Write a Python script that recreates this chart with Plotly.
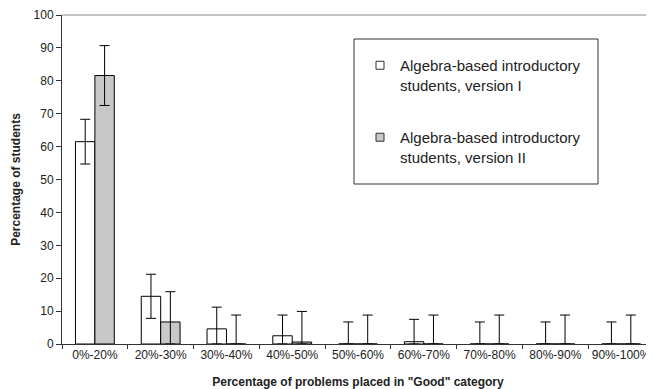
import plotly.graph_objects as go

categories = ["0%-20%", "20%-30%", "30%-40%", "40%-50%", "50%-60%",
              "60%-70%", "70%-80%", "80%-90%", "90%-100%"]
v1_values = [61.5, 14.5, 4.6, 2.5, 0, 0.7, 0, 0, 0]
v1_err = [6.8, 6.7, 6.6, 6.3, 6.7, 6.8, 6.7, 6.7, 6.7]
v2_values = [81.6, 6.7, 0, 0.6, 0, 0, 0, 0, 0]
v2_err = [9.1, 9.2, 8.8, 9.3, 8.8, 8.8, 8.8, 8.8, 8.8]
y_ticks = [0, 10, 20, 30, 40, 50, 60, 70, 80, 90, 100]

name1 = "Algebra-based introductory<br>students, version I"
name2 = "Algebra-based introductory<br>students, version II"

FONT = "Liberation Sans, Arial, sans-serif"

def minus(vals, errs):
    return [min(v, e) for v, e in zip(vals, errs)]

fig = go.Figure()
fig.add_trace(go.Bar(
    x=categories, y=v1_values, name=name1, showlegend=False,
    marker=dict(color="white", line=dict(color="black", width=1)),
    error_y=dict(type="data", symmetric=False, array=v1_err,
                 arrayminus=minus(v1_values, v1_err),
                 color="black", thickness=1, width=5),
))
fig.add_trace(go.Bar(
    x=categories, y=v2_values, name=name2, showlegend=False,
    marker=dict(color="#c8c8c8", line=dict(color="black", width=1)),
    error_y=dict(type="data", symmetric=False, array=v2_err,
                 arrayminus=minus(v2_values, v2_err),
                 color="black", thickness=1, width=5),
))
# legend keys (small squares)
fig.add_trace(go.Scatter(
    x=[None], y=[None], mode="markers", name=name1, legendgroup="a",
    marker=dict(symbol="square", size=8, color="white",
                line=dict(color="#333", width=1)),
))
fig.add_trace(go.Scatter(
    x=[None], y=[None], mode="markers", name=name2, legendgroup="b",
    marker=dict(symbol="square", size=8, color="#c8c8c8",
                line=dict(color="#333", width=1)),
))

# page body has an 8px margin; compensate so the plot sits where the reference has it
fig.update_layout(
    width=646, height=381,
    margin=dict(l=54, r=0, t=7, b=45, autoexpand=False),
    paper_bgcolor="white", plot_bgcolor="white",
    font=dict(family=FONT, size=12, color="#222"),
    barmode="group", bargap=0.41, bargroupgap=0,
    legend=dict(x=(360 - 62) / 592, y=(344 - 49) / 329,
                xanchor="left", yanchor="top",
                bgcolor="rgba(0,0,0,0)", borderwidth=0,
                font=dict(family=FONT, size=15, color="#222"),
                valign="top", tracegroupgap=30, itemwidth=30),
    shapes=[dict(type="rect", xref="paper", yref="paper",
                 x0=(354 - 62) / 592, x1=(598 - 62) / 592,
                 y0=(344 - 184) / 329, y1=(344 - 39) / 329,
                 line=dict(color="#333", width=1), fillcolor="rgba(0,0,0,0)")],
)
fig.update_xaxes(
    type="category", showline=True, linecolor="#333", linewidth=1,
    mirror=False, ticks="outside", tickson="boundaries", ticklen=4,
    tickcolor="#333", showgrid=False, zeroline=False, tickangle=0,
    automargin=False,
    tickfont=dict(family=FONT, size=12, color="#222"),
    title=dict(text='Percentage of problems placed in "Good" category',
               font=dict(family=FONT, size=12, color="#222", weight="bold"),
               standoff=16),
)
fig.update_yaxes(
    range=[0, 100], tickvals=y_ticks, showline=True, linecolor="#333",
    linewidth=1, ticks="outside", ticklen=5, tickcolor="#333",
    showgrid=False, zeroline=False, automargin=False,
    tickfont=dict(family=FONT, size=12, color="#222"),
    title=dict(text="Percentage of students",
               font=dict(family=FONT, size=12, color="#222", weight="bold"),
               standoff=10),
)
# top frame line
fig.add_shape(type="line", xref="paper", yref="paper", x0=0, x1=1, y0=1, y1=1,
              line=dict(color="#888", width=1))

fig.write_html("out.html")
